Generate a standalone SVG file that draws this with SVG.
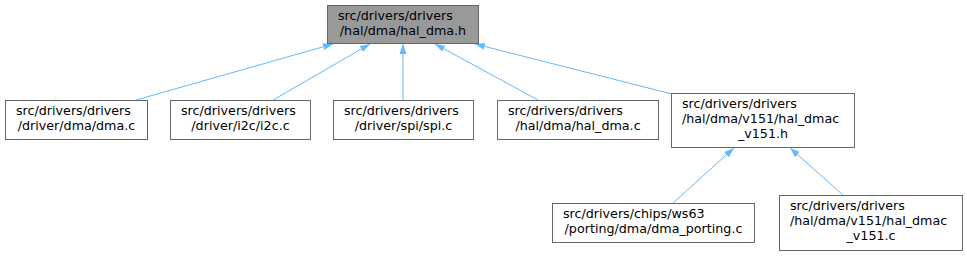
<svg xmlns="http://www.w3.org/2000/svg" width="967" height="256" viewBox="0 0 967 256">
<style>
text{font-family:"DejaVu Sans",sans-serif;font-size:12.7px;fill:#000}
.n{fill:#fff;stroke:#666;stroke-width:1}
.root{fill:#999;stroke:#666;stroke-width:1}
.e{stroke:#63b8ff;stroke-width:1;fill:none;marker-end:url(#ah)}
.m{text-anchor:middle}
</style>
<defs>
<marker id="ah" markerUnits="userSpaceOnUse" markerWidth="11" markerHeight="8" refX="10" refY="3.5" orient="auto">
<path d="M0,0 L10,3.5 L0,7 z" fill="#63b8ff"/>
</marker>
</defs>
<rect width="967" height="256" fill="#fff"/>
<g id="connectors">
<line class="e" x1="136" y1="100" x2="333" y2="44"/>
<line class="e" x1="273" y1="100" x2="370" y2="44"/>
<line class="e" x1="403" y1="100" x2="403" y2="44"/>
<line class="e" x1="538" y1="100" x2="435" y2="44"/>
<line class="e" x1="672" y1="94" x2="475" y2="44"/>
<line class="e" x1="673" y1="203" x2="734" y2="148"/>
<line class="e" x1="843" y1="195" x2="790" y2="148"/>
</g>
<g id="node_root">
<rect class="root" x="327.5" y="5.5" width="151" height="38"/>
<text x="338" y="20">src/drivers/drivers</text>
<text class="m" x="403" y="35">/hal/dma/hal_dma.h</text>
</g>
<g id="node_dma_c">
<rect class="n" x="5.5" y="100.5" width="142" height="39"/>
<text x="16" y="115">src/drivers/drivers</text>
<text class="m" x="76.5" y="130">/driver/dma/dma.c</text>
</g>
<g id="node_i2c_c">
<rect class="n" x="170.5" y="100.5" width="140" height="39"/>
<text x="181" y="115">src/drivers/drivers</text>
<text class="m" x="240.5" y="130">/driver/i2c/i2c.c</text>
</g>
<g id="node_spi_c">
<rect class="n" x="333.5" y="100.5" width="140" height="39"/>
<text x="344" y="115">src/drivers/drivers</text>
<text class="m" x="403.5" y="130">/driver/spi/spi.c</text>
</g>
<g id="node_hal_dma_c">
<rect class="n" x="497.5" y="100.5" width="161" height="39"/>
<text x="508" y="115">src/drivers/drivers</text>
<text class="m" x="578" y="130">/hal/dma/hal_dma.c</text>
</g>
<g id="node_hal_dmac_v151_h">
<rect class="n" x="671.5" y="93.5" width="183" height="54"/>
<text x="682" y="108">src/drivers/drivers</text>
<text x="682" y="123">/hal/dma/v151/hal_dmac</text>
<text class="m" x="763" y="138">_v151.h</text>
</g>
<g id="node_dma_porting_c">
<rect class="n" x="552.5" y="203.5" width="202" height="39"/>
<text x="563" y="218">src/drivers/chips/ws63</text>
<text class="m" x="653.5" y="233">/porting/dma/dma_porting.c</text>
</g>
<g id="node_hal_dmac_v151_c">
<rect class="n" x="779.5" y="195.5" width="183" height="55"/>
<text x="790" y="210">src/drivers/drivers</text>
<text x="790" y="225">/hal/dma/v151/hal_dmac</text>
<text class="m" x="871" y="240">_v151.c</text>
</g>
</svg>
